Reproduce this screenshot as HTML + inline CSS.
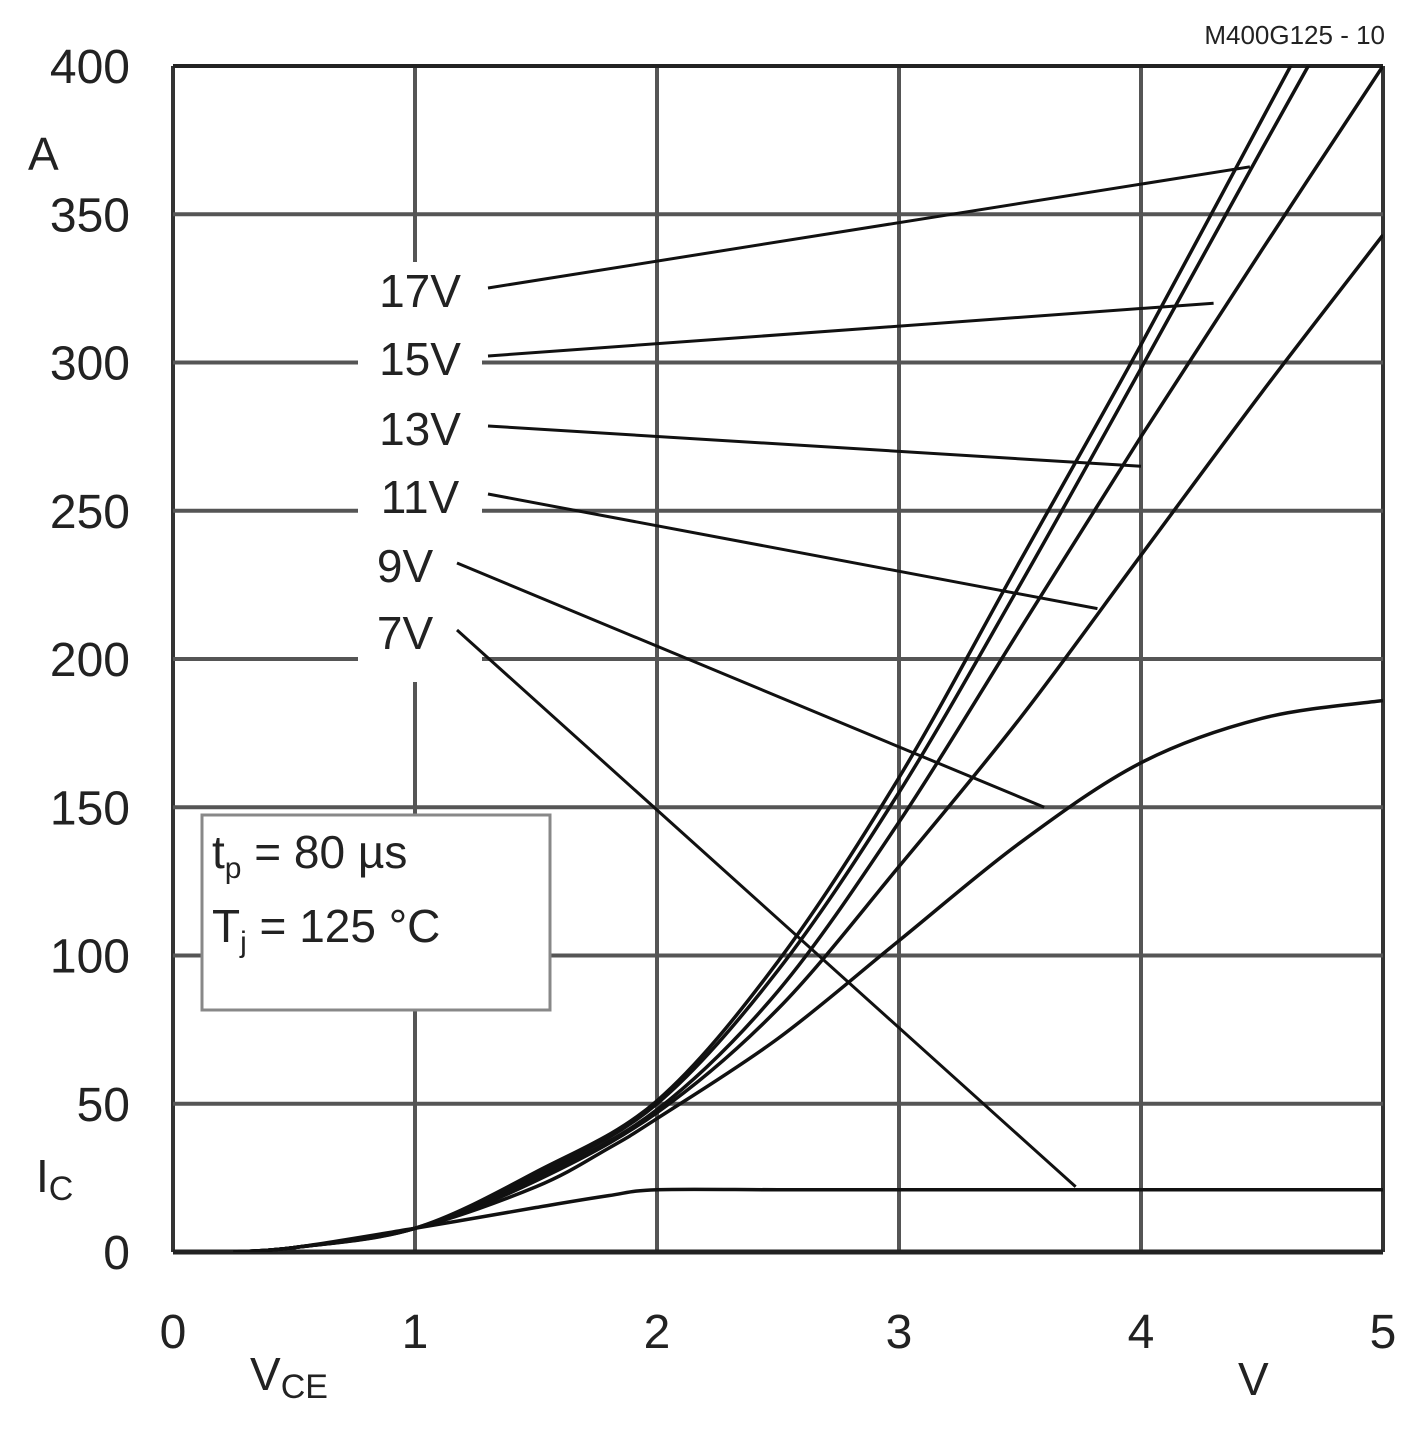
<!DOCTYPE html>
<html><head><meta charset="utf-8"><style>
html,body{margin:0;padding:0;background:#fff;}
svg text{font-family:"Liberation Sans",sans-serif;fill:#222;}
</style></head><body>
<svg id="chart" width="1417" height="1431" viewBox="0 0 1417 1431" xmlns="http://www.w3.org/2000/svg">
<g id="grid"></g>
<rect x="358" y="262" width="124" height="420" fill="#fff"/>
<g id="curves"></g>
<g id="labels"></g>
<text x="1385" y="44" font-size="26" text-anchor="end" fill="#555">M400G125 - 10</text>
<text x="28" y="170" font-size="46">A</text>
<text x="36" y="1192" font-size="46">I<tspan font-size="34" dy="8">C</tspan></text>
<text x="250" y="1390" font-size="46">V<tspan font-size="34" dy="8">CE</tspan></text>
<text x="1238" y="1395" font-size="46">V</text>
<g>
<rect x="202" y="815" width="348" height="195" fill="#fff" stroke="#888" stroke-width="3"/>
<text x="212" y="868" font-size="46">t<tspan font-size="30" dy="10">p</tspan><tspan dy="-10"> = 80 µs</tspan></text>
<text x="212" y="942" font-size="46">T<tspan font-size="30" dy="10">j</tspan><tspan dy="-10"> = 125 °C</tspan></text>
</g>
</svg>
<script>
const xTicks=[0,1,2,3,4,5];
const yTicks=[0,50,100,150,200,250,300,350,400];
const vce=[0.25,0.5,1,1.5,1.8,2,2.5,3,3.5,4,4.5,5];
const ic7=[0,1.5,8,15,19,21,21,21,21,21,21,21];
const ic9=[0,1.5,8,22,35,45,72,105,138,165,180,186];
const vceHi=[0.25,0.5,1,1.5,2,2.5,3,3.5,4,4.5,5];
const ic11=[0,1.5,8,24,47,82,130,180,235,290,343];
const ic13=[0,1.5,8,25,48,88,145,210,275,338,400];
const ic15=[0,1.5,8,26,50,95,155,225,298,372,445];
const ic17=[0,1.5,8,27,51,98,160,233,306,382,458];
const gateLabels=["17V","15V","13V","11V","9V","7V"];
const labelPos=[[420,290],[420,358],[420,428],[420,496],[405,565],[405,632]];
const leaderEnd=[[4.45,366],[4.3,320],[4.0,265],[3.82,217],[3.6,150],[3.73,22]];
const X0=173,X1=1383,Y0=1252,Y1=66;
const sx=v=>X0+(X1-X0)*v/5, sy=a=>Y0-(Y0-Y1)*a/400;
const NS="http://www.w3.org/2000/svg";
function mk(t,attrs,parent){const e=document.createElementNS(NS,t);for(const k in attrs)e.setAttribute(k,attrs[k]);parent.appendChild(e);return e;}
const grid=document.getElementById('grid');
xTicks.forEach(v=>{
 const l=mk('line',{x1:sx(v),x2:sx(v),y1:Y1,y2:Y0,stroke:(v===0||v===5)?'#333':'#555','stroke-width':4},grid);
 
 
 const t=mk('text',{x:sx(v),y:1348,'font-size':48,'text-anchor':'middle'},grid);t.textContent=v;
 
 
});
yTicks.forEach(a=>{
 const l=mk('line',{x1:X0,x2:X1,y1:sy(a),y2:sy(a),stroke:(a===0||a===400)?'#222':'#555','stroke-width':a===0?5:4},grid);
 
 
 const t=mk('text',{x:130,y:sy(a)+17,'font-size':48,'text-anchor':'end'},grid);t.textContent=a;
 
 
});
const cg=document.getElementById('curves');
const clip=mk('clipPath',{id:'pc'},cg);mk('rect',{x:X0,y:Y1,width:X1-X0,height:Y0-Y1},clip);
function path(xs,ys){
 const p=xs.map((x,i)=>[sx(x),sy(ys[i])]);
 let d=`M${p[0][0]},${p[0][1]}`;
 for(let i=0;i<p.length-1;i++){
  const a=p[i-1]||p[i],b=p[i],c=p[i+1],e=p[i+2]||c;
  d+=` C${b[0]+(c[0]-a[0])/6},${b[1]+(c[1]-a[1])/6} ${c[0]-(e[0]-b[0])/6},${c[1]-(e[1]-b[1])/6} ${c[0]},${c[1]}`;
 }
 return d;
}
[[vce,ic7,'curve-7v'],[vce,ic9,'curve-9v'],[vceHi,ic11,'curve-11v'],[vceHi,ic13,'curve-13v'],[vceHi,ic15,'curve-15v'],[vceHi,ic17,'curve-17v']].forEach(s=>{
 const e=mk('path',{d:path(s[0],s[1]),fill:'none',stroke:'#111','stroke-width':3.5,'clip-path':'url(#pc)'},cg);
 
 
});
const lg=document.getElementById('labels');
gateLabels.forEach((g,i)=>{
 const [lx,ly]=labelPos[i];
 const t=mk('text',{x:lx,y:ly+17,'font-size':46,'text-anchor':'middle'},lg);t.textContent=g;
 
 
 const l=mk('line',{x1:lx+(g.length>2?68:52),y1:ly-2,x2:sx(leaderEnd[i][0]),y2:sy(leaderEnd[i][1]),stroke:'#111','stroke-width':3},lg);
 
 
});
</script>
</body></html>
